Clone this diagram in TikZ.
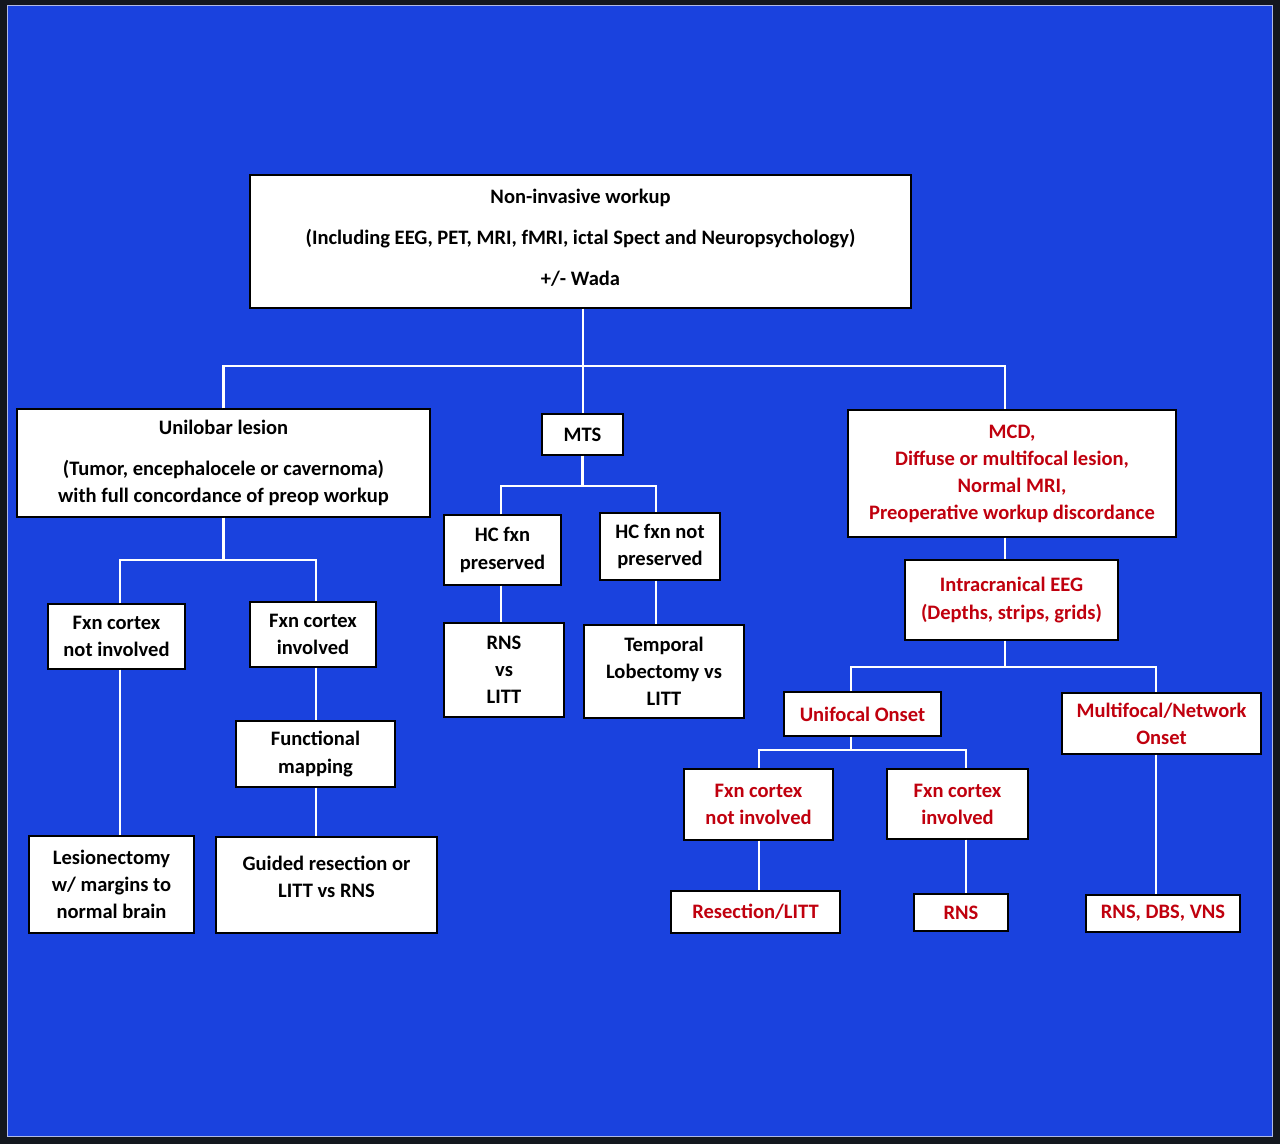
\documentclass[tikz,border=0pt]{standalone}
\usepackage{fontspec}
\setmainfont{Carlito}
\usepackage{xcolor}
\usepackage{tikz}

\definecolor{framec}{RGB}{19,23,30}
\definecolor{slidec}{RGB}{26,66,222}
\definecolor{rimc}{RGB}{176,186,230}
\definecolor{redc}{RGB}{192,0,14}

\tikzset{
  box/.style={draw=black, fill=white, line width=1.1pt, align=center, inner sep=0pt,
    font=\fontsize{15.4}{20.3}\selectfont\bfseries},
  redbox/.style={box, text=redc},
  wire/.style={draw=white, line width=1.6pt},
}

\begin{document}
\begin{tikzpicture}[x=0.75pt,y=0.75pt,yscale=-1,xscale=1]
\useasboundingbox (0,0) rectangle (1280,1144);

%Background
\fill [framec] (0,0) rectangle (1280,1144);
\fill [slidec] (7,5) rectangle (1273,1137);
\draw [rimc, line width=1.2pt] (7.5,5.5) rectangle (1272.5,1136.5);

% Top box
\node [box, minimum width=661*0.75pt, minimum height=133*0.75pt] (workup) at (580.5,241.5)
  {Non-invasive workup\\[10.5pt] (Including EEG, PET, MRI, fMRI, ictal Spect and Neuropsychology)\\[10.5pt] +/- Wada\\[-14pt]\mbox{}};

% Left branch
\node [box, minimum width=413*0.75pt, minimum height=108*0.75pt] (unilobar) at (223.5,463)
  {Unilobar lesion\\[10.5pt] (Tumor, encephalocele or cavernoma)\\ with full concordance of preop workup};
\node [box, minimum width=137*0.75pt, minimum height=65*0.75pt] (fxnno) at (116.5,636.5)
  {Fxn cortex\\ not involved};
\node [box, minimum width=126*0.75pt, minimum height=65*0.75pt] (fxnyes) at (313,634.5)
  {Fxn cortex\\ involved};
\node [box, minimum width=159*0.75pt, minimum height=66*0.75pt] (mapping) at (315.5,754)
  {Functional\\ mapping};
\node [box, minimum width=165*0.75pt, minimum height=97*0.75pt] (lesionect) at (111.5,884.5)
  {Lesionectomy\\ w/ margins to\\ normal brain};
\node [box, minimum width=221*0.75pt, minimum height=96*0.75pt] (guided) at (326.5,885)
  {Guided resection or\\ LITT vs RNS\\[-8pt]\mbox{}};

% Middle branch
\node [box, minimum width=81*0.75pt, minimum height=41*0.75pt] (mts) at (582.5,434.5) {MTS};
\node [box, minimum width=117*0.75pt, minimum height=70*0.75pt] (hcpres) at (502.5,550)
  {HC fxn\\ preserved};
\node [box, minimum width=120*0.75pt, minimum height=67*0.75pt] (hcnot) at (660,546.5)
  {HC fxn not\\ preserved};
\node [box, minimum width=120*0.75pt, minimum height=94*0.75pt] (rnslitt) at (504,670)
  {RNS\\ vs\\ LITT};
\node [box, minimum width=160*0.75pt, minimum height=93*0.75pt] (lobect) at (664,671.5)
  {Temporal\\ Lobectomy vs\\ LITT};

% Right branch
\node [redbox, minimum width=328*0.75pt, minimum height=127*0.75pt] (mcd) at (1012,473.5)
  {MCD,\\ Diffuse or multifocal lesion,\\ Normal MRI,\\ Preoperative workup discordance};
\node [redbox, minimum width=213*0.75pt, minimum height=80*0.75pt] (ieeg) at (1011.5,600)
  {Intracranical EEG\\ (Depths, strips, grids)};
\node [redbox, minimum width=157*0.75pt, minimum height=44*0.75pt] (unifocal) at (862.5,714)
  {Unifocal Onset};
\node [redbox, minimum width=199*0.75pt, minimum height=61*0.75pt] (multifocal) at (1161.5,723.5)
  {Multifocal/Network\\ Onset};
\node [redbox, minimum width=149*0.75pt, minimum height=71*0.75pt] (rfxnno) at (758.5,804.5)
  {Fxn cortex\\ not involved};
\node [redbox, minimum width=141*0.75pt, minimum height=70*0.75pt] (rfxnyes) at (957.5,804)
  {Fxn cortex\\ involved};
\node [redbox, minimum width=169*0.75pt, minimum height=42*0.75pt] (reslitt) at (755.5,912)
  {Resection/LITT};
\node [redbox, minimum width=94*0.75pt, minimum height=37*0.75pt] (rns) at (961,912.5) {RNS};
\node [redbox, minimum width=154*0.75pt, minimum height=37*0.75pt] (rnsdbs) at (1163,913.5)
  {RNS, DBS, VNS};

% Junctions
\coordinate (top) at (583,366);
\coordinate (mcdx) at (1005,366);
\coordinate (ul) at (120,560);
\coordinate (ur) at (316,560);
\coordinate (ml) at (501,486);
\coordinate (mr) at (656,486);
\coordinate (el) at (851,667);
\coordinate (er) at (1156,667);
\coordinate (fl) at (759,750);
\coordinate (fr) at (966,750);

% Connectors
\draw [wire] (workup.south -| top) -- (top |- mts.north);
\draw [wire] (unilobar.north) |- (mcdx) -- (mcdx |- mcd.north);

\draw [wire] (unilobar.south) -- (unilobar.south |- ul);
\draw [wire] (ul |- fxnno.north) -- (ul) -- (ur) -- (ur |- fxnyes.north);
\draw [wire] (ul |- fxnno.south) -- (ul |- lesionect.north);
\draw [wire] (ur |- fxnyes.south) -- (ur |- mapping.north);
\draw [wire] (ur |- mapping.south) -- (ur |- guided.north);

\draw [wire] (mts.south) -- (mts.south |- ml);
\draw [wire] (ml |- hcpres.north) -- (ml) -- (mr) -- (mr |- hcnot.north);
\draw [wire] (ml |- hcpres.south) -- (ml |- rnslitt.north);
\draw [wire] (mr |- hcnot.south) -- (mr |- lobect.north);

\draw [wire] (mcdx |- mcd.south) -- (mcdx |- ieeg.north);
\draw [wire] (mcdx |- ieeg.south) -- (mcdx |- el);
\draw [wire] (el |- unifocal.north) -- (el) -- (er) -- (er |- multifocal.north);
\draw [wire] (el |- unifocal.south) -- (el |- fl);
\draw [wire] (fl |- rfxnno.north) -- (fl) -- (fr) -- (fr |- rfxnyes.north);
\draw [wire] (fl |- rfxnno.south) -- (fl |- reslitt.north);
\draw [wire] (fr |- rfxnyes.south) -- (fr |- rns.north);
\draw [wire] (er |- multifocal.south) -- (er |- rnsdbs.north);

\end{tikzpicture}
\end{document}
